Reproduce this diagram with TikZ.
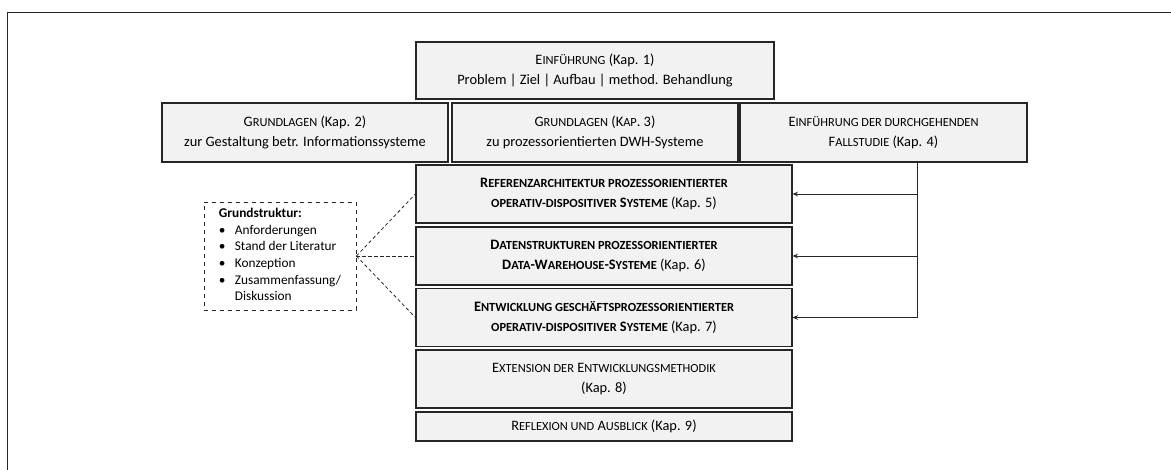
\documentclass[tikz,border=0pt]{standalone}
\usepackage{fontspec}
\setmainfont{Carlito}
\usepackage{xcolor}
\usepackage{tikz}
\usetikzlibrary{arrows.meta,positioning,calc}
\definecolor{boxfill}{HTML}{F2F2F2}
\definecolor{boxline}{HTML}{262626}
% fake small caps (Carlito has none)
\newcommand\ksc[1]{{\fontsize{9.3pt}{15pt}\selectfont #1}}
\tikzset{
  chap/.style={draw=boxline, fill=boxfill, line width=0.9pt, align=center, inner sep=0pt,
    font=\fontsize{10.8pt}{15pt}\selectfont},
  topbox/.style={chap, minimum width=268.5pt, minimum height=42.75pt},
  basebox/.style={chap, minimum width=214.5pt, minimum height=44.25pt},
  mainbox/.style={chap, minimum width=282pt, minimum height=43.5pt},
  lowbox/.style={chap, minimum width=282pt, minimum height=21.75pt},
  notebox/.style={draw=boxline, dashed, line width=0.6pt, align=left, inner sep=0pt,
    minimum width=114pt, minimum height=81pt, font=\fontsize{10pt}{12.5pt}\selectfont},
  feed/.style={draw=boxline, line width=0.7pt, -{Stealth[length=4pt,width=3.5pt]}},
  link/.style={draw=boxline, line width=0.6pt, dash pattern=on 2.5pt off 2pt}
}

\begin{document}
\begin{tikzpicture}[x=0.75pt, y=-0.75pt]
  \useasboundingbox (0,0) rectangle (1171,470);
  \draw[boxline, line width=0.7pt] (7,470) -- (7,12) -- (1171,12);

  \node[topbox] (k1) at (595,70.5) {E\ksc{INFÜHRUNG} (Kap. 1)\\Problem | Ziel | Aufbau | method. Behandlung};
  \node[basebox] (k2) at (305,132.5) {G\ksc{RUNDLAGEN} (Kap. 2)\\zur Gestaltung betr. Informationssysteme};
  \node[basebox] (k3) at (595,132.5) {G\ksc{RUNDLAGEN} (K\ksc{AP}. 3)\\zu prozessorientierten DWH-Systeme};
  \node[basebox, minimum width=215.25pt] (k4) at (883.5,132.5) {E\ksc{INFÜHRUNG DER DURCHGEHENDEN}\\F\ksc{ALLSTUDIE} (Kap. 4)};

  \node[mainbox] (k5) at (604,194) {\textbf{R\ksc{EFERENZARCHITEKTUR PROZESSORIENTIERTER}}\\\textbf{\ksc{OPERATIV-DISPOSITIVER} S\ksc{YSTEME}} (Kap. 5)};
  \node[mainbox] (k6) at (604,256) {\textbf{D\ksc{ATENSTRUKTUREN PROZESSORIENTIERTER}}\\\textbf{D\ksc{ATA}-W\ksc{AREHOUSE}-S\ksc{YSTEME}} (Kap. 6)};
  \node[mainbox] (k7) at (604,317.5) {\textbf{E\ksc{NTWICKLUNG GESCHÄFTSPROZESSORIENTIERTER}}\\\textbf{\ksc{OPERATIV-DISPOSITIVER} S\ksc{YSTEME}} (Kap. 7)};
  \node[mainbox] (k8) at (604,379) {E\ksc{XTENSION DER} E\ksc{NTWICKLUNGSMETHODIK}\\(Kap. 8)};
  \node[lowbox] (k9) at (604,426.5) {R\ksc{EFLEXION UND} A\ksc{USBLICK} (Kap. 9)};

  \node[notebox] (gs) at (280,256) {%
    \begin{tabular}{@{}l@{\hspace{7pt}}l@{}}
      \multicolumn{2}{@{}l}{\textbf{Grundstruktur:}}\\
      \textbullet & Anforderungen\\
      \textbullet & Stand der Literatur\\
      \textbullet & Konzeption\\
      \textbullet & Zusammenfassung/\\
                  & Diskussion
    \end{tabular}};

  % Fallstudie feeds chapters 5-7
  \coordinate (bus) at (917,317.5);
  \draw[feed] (k4.south -| bus) |- (k5.east);
  \draw[feed] (k4.south -| bus) |- (k6.east);
  \draw[feed] (k4.south -| bus) |- (k7.east);

  % Grundstruktur of chapters 5-7
  \draw[link] (gs.east) -- (k5.west);
  \draw[link] (gs.east) -- (k6.west);
  \draw[link] (gs.east) -- (k7.west);
\end{tikzpicture}
\end{document}
